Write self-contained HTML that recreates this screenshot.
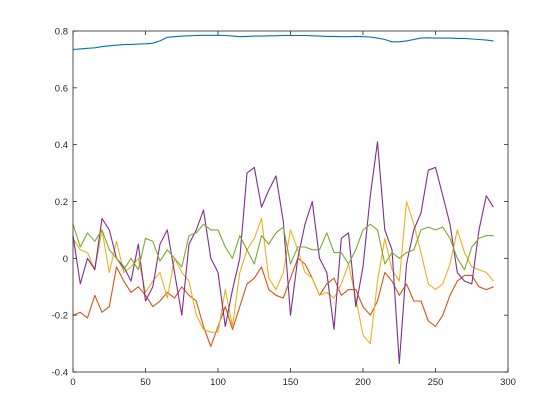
<!DOCTYPE html>
<html><head><meta charset="utf-8"><style>
body{margin:0;background:#fff;}
svg{display:block;font-family:"Liberation Sans",sans-serif;}
</style></head><body>
<svg id="chart" width="560" height="420"></svg>
<script>
const xs = [0,5,10,15,20,25,30,35,40,45,50,55,60,65,70,75,80,85,90,95,100,105,110,115,120,125,130,135,140,145,150,155,160,165,170,175,180,185,190,195,200,205,210,215,220,225,230,235,240,245,250,255,260,265,270,275,280,285,290];
const blueVals = [0.735,0.737,0.739,0.741,0.745,0.748,0.75,0.752,0.753,0.754,0.755,0.757,0.765,0.778,0.78,0.782,0.783,0.784,0.785,0.785,0.785,0.784,0.782,0.78,0.781,0.782,0.782,0.783,0.783,0.784,0.784,0.784,0.784,0.783,0.782,0.781,0.781,0.78,0.78,0.781,0.78,0.779,0.775,0.77,0.762,0.762,0.765,0.77,0.775,0.776,0.775,0.775,0.775,0.774,0.774,0.772,0.77,0.768,0.765];
const redVals = [-0.2,-0.19,-0.21,-0.13,-0.19,-0.17,-0.03,-0.08,-0.12,-0.1,-0.13,-0.17,-0.15,-0.12,-0.14,-0.1,-0.13,-0.15,-0.24,-0.31,-0.24,-0.17,-0.25,-0.17,-0.09,-0.07,-0.03,-0.11,-0.13,-0.14,-0.07,0.0,-0.02,-0.07,-0.13,-0.09,-0.07,-0.13,-0.11,-0.11,-0.17,-0.2,-0.15,-0.05,-0.08,-0.13,-0.09,-0.15,-0.15,-0.22,-0.24,-0.2,-0.13,-0.08,-0.06,-0.06,-0.1,-0.11,-0.1];
const yellowVals = [0.07,0.03,0.02,-0.04,0.1,-0.05,0.06,-0.05,-0.03,0.0,-0.12,-0.08,-0.05,-0.14,0.0,-0.05,-0.08,-0.2,-0.25,-0.26,-0.26,-0.11,-0.24,-0.05,0.03,0.07,0.14,-0.07,-0.11,-0.05,0.1,0.03,-0.05,-0.07,-0.13,-0.12,-0.14,-0.09,-0.02,-0.14,-0.27,-0.3,-0.08,0.07,-0.04,-0.08,0.2,0.12,0.02,-0.09,-0.11,-0.09,-0.02,0.1,0.02,-0.03,-0.04,-0.05,-0.08];
const purpleVals = [0.08,-0.09,0.0,-0.04,0.14,0.1,0.0,-0.03,-0.08,0.05,-0.15,-0.1,0.05,0.1,-0.05,-0.2,0.05,0.1,0.17,0.0,-0.05,-0.24,-0.11,0.0,0.3,0.32,0.18,0.24,0.29,0.13,-0.2,0.0,0.12,0.2,0.0,-0.05,-0.25,0.07,0.09,-0.17,-0.03,0.22,0.41,0.1,0.03,-0.37,-0.02,0.1,0.16,0.31,0.32,0.22,0.12,-0.05,-0.08,-0.09,0.1,0.22,0.18];
const greenVals = [0.12,0.04,0.09,0.06,0.1,0.03,0.0,-0.04,0.0,-0.04,0.07,0.06,-0.01,0.03,0.0,-0.03,0.08,0.09,0.12,0.1,0.1,0.04,0.0,0.08,0.03,-0.02,0.08,0.05,0.09,0.11,-0.02,0.04,0.04,0.03,0.03,0.09,0.02,0.02,-0.02,0.03,0.1,0.12,0.1,-0.02,0.02,0.0,0.02,0.03,0.1,0.11,0.1,0.11,0.07,0.0,-0.04,0.04,0.07,0.08,0.08];
const xTicks = [0,50,100,150,200,250,300];
const yTicks = [-0.4,-0.2,0,0.2,0.4,0.6,0.8];

const L=73,R=508,T=31,B=372;
const sx = v => L + (v-0)/(300-0)*(R-L);
const sy = v => B - (v+0.4)/(1.2)*(B-T);
const svg = document.getElementById('chart');
const NS='http://www.w3.org/2000/svg';
function mk(tag, attrs){const e=document.createElementNS(NS,tag);for(const k in attrs)e.setAttribute(k,attrs[k]);svg.appendChild(e);return e;}

const series=[[blueVals,'#0072BD','series-1'],[redVals,'#D95319','series-2'],[yellowVals,'#EDB120','series-3'],[purpleVals,'#7E2F8E','series-4'],[greenVals,'#77AC30','series-5']];
series.forEach(s=>{
  const d=s[0].map((v,i)=>(i?'L':'M')+sx(xs[i]).toFixed(1)+' '+sy(v).toFixed(1)).join(' ');
  const p=mk('path',{d:d,fill:'none',stroke:s[1],'stroke-width':1.1,'stroke-linejoin':'round'});
  
  
});

const box=mk('rect',{x:L,y:T,width:R-L,height:B-T,fill:'none',stroke:'#262626','stroke-width':0.8});



xTicks.forEach(t=>{
  const x=sx(t);
  mk('line',{x1:x,y1:B,x2:x,y2:B-4,stroke:'#262626','stroke-width':0.8});
  mk('line',{x1:x,y1:T,x2:x,y2:T+4,stroke:'#262626','stroke-width':0.8});
  const tx=mk('text',{x:x,y:B+13,'font-size':9.5,'text-anchor':'middle',fill:'#262626'});
  tx.textContent=t;
  
  
});
yTicks.forEach(t=>{
  const y=sy(t);
  mk('line',{x1:L,y1:y,x2:L+4,y2:y,stroke:'#262626','stroke-width':0.8});
  mk('line',{x1:R,y1:y,x2:R-4,y2:y,stroke:'#262626','stroke-width':0.8});
  const tx=mk('text',{x:L-5,y:y+3.5,'font-size':9.5,'text-anchor':'end',fill:'#262626'});
  tx.textContent=(Math.round(t*10)/10).toString();
  
  
});
</script>
</body></html>
